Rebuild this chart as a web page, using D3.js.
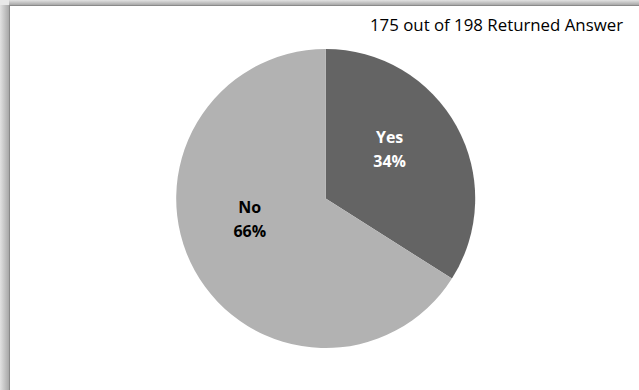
<!DOCTYPE html>
<html>
<head>
<meta charset="utf-8">
<script src="https://cdn.jsdelivr.net/npm/d3@7"></script>
<style>
html,body{margin:0;padding:0;background:#fff;}
svg{display:block;}
</style>
</head>
<body>
<svg id="chart" width="639" height="390"></svg>
<script>
const categories = ["Yes", "No"];
const values = [34, 66];
const percentLabels = ["34%", "66%"];
const sliceColors = ["#646464", "#b2b2b2"];
const labelColors = ["#ffffff", "#000000"];
const title = "175 out of 198 Returned Answer";

const W = 639, H = 390;
const svg = d3.select("#chart");
const defs = svg.append("defs");

const gl = defs.append("linearGradient").attr("id","shL").attr("x1","0").attr("x2","1").attr("y1","0").attr("y2","0");
gl.append("stop").attr("offset","0").attr("stop-color","#e2e2e2");
gl.append("stop").attr("offset","1").attr("stop-color","#a8a8a8");
const gt = defs.append("linearGradient").attr("id","shT").attr("x1","0").attr("x2","0").attr("y1","0").attr("y2","1");
gt.append("stop").attr("offset","0").attr("stop-color","#e2e2e2");
gt.append("stop").attr("offset","1").attr("stop-color","#a8a8a8");

svg.append("rect").attr("x",0).attr("y",0).attr("width",W).attr("height",H).attr("fill","#fff");
svg.append("rect").attr("x",0).attr("y",0).attr("width",9).attr("height",H).attr("fill","url(#shL)");
svg.append("rect").attr("x",9).attr("y",0).attr("width",W-9).attr("height",5).attr("fill","url(#shT)");
svg.append("rect").attr("x",0).attr("y",0).attr("width",9).attr("height",5).attr("fill","#e8e8e8");
svg.append("line").attr("x1",9.5).attr("x2",9.5).attr("y1",5).attr("y2",H).attr("stroke","#8a8a8a").attr("stroke-width",1);
svg.append("line").attr("x1",9).attr("x2",W).attr("y1",5.5).attr("y2",5.5).attr("stroke","#8a8a8a").attr("stroke-width",1);

const cx = 325.7, cy = 198.5, R = 149.5;
const pie = d3.pie().sort(null).value(d => d);
const arcs = pie(values);
const arc = d3.arc().innerRadius(0).outerRadius(R);
const labelArc = d3.arc().innerRadius(0).outerRadius(155);
const labelShift = [[-4, -12], [-8, -17]];

const g = svg.append("g").attr("transform", `translate(${cx},${cy})`);
g.selectAll("path.slice").data(arcs).enter().append("path")
  .attr("class","slice")
  .attr("d", arc)
  .attr("fill", (d,i) => sliceColors[i]);

const lab = g.selectAll("text.lbl").data(arcs).enter().append("text")
  .attr("class","lbl")
  .attr("text-anchor","middle")
  .attr("font-family","'Open Sans', 'DejaVu Sans', sans-serif")
  .attr("font-weight","bold")
  .attr("font-size",16)
  .attr("fill",(d,i) => labelColors[i])
  .attr("transform", (d,i) => {
    const c = labelArc.centroid(d);
    return `translate(${c[0] + labelShift[i][0]},${c[1] + labelShift[i][1]})`;
  });
lab.append("tspan").attr("x",0).attr("y",-6).text((d,i) => categories[i]);
lab.append("tspan").attr("x",0).attr("y",18).text((d,i) => percentLabels[i]);

svg.append("text")
  .attr("x", 623).attr("y", 31)
  .attr("text-anchor","end")
  .attr("font-family","'Open Sans', 'DejaVu Sans', sans-serif")
  .attr("font-size",16)
  .attr("textLength",253)
  .attr("lengthAdjust","spacingAndGlyphs")
  .attr("fill","#000")
  .text(title);
</script>
</body>
</html>
